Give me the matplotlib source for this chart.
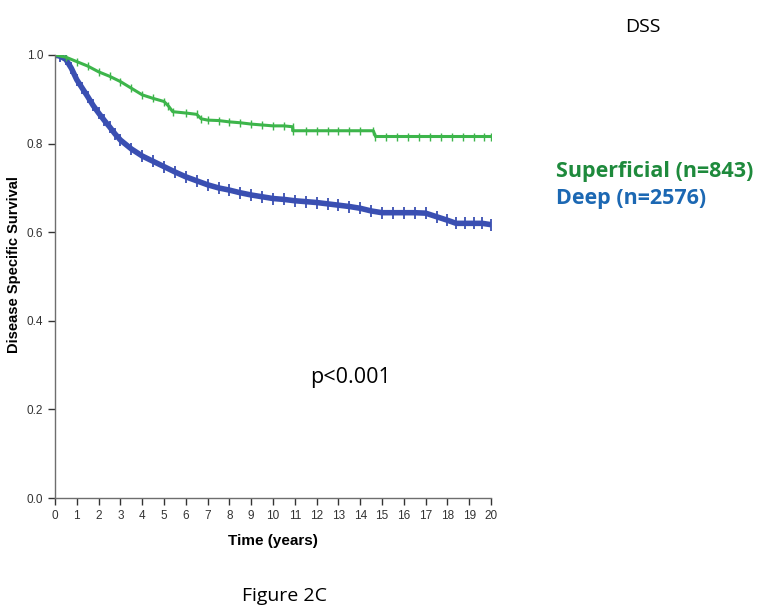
import matplotlib
matplotlib.use("Agg")
import matplotlib.pyplot as plt
import numpy as np

# Kaplan-Meier estimates (sharp drops given as repeated times)
sup_time = [0, 0.5, 1.0, 1.5, 2.0, 2.5, 3.0, 3.5, 4.0, 4.5, 5.0, 5.2, 5.4, 6.0, 6.5, 6.7,
            7.0, 7.5, 8.0, 8.5, 9.0, 9.5, 10.0, 10.5, 10.9, 10.9, 11.5, 12.0, 12.5, 13.0,
            13.5, 14.0, 14.6, 14.7, 15.2, 15.7, 16.2, 16.7, 17.2, 17.7, 18.2, 18.7, 19.2,
            19.7, 20.0]
sup_surv = [1.0, 0.995, 0.985, 0.975, 0.962, 0.952, 0.94, 0.925, 0.91, 0.902, 0.895, 0.885,
            0.872, 0.869, 0.866, 0.856, 0.853, 0.852, 0.849, 0.847, 0.844, 0.842, 0.84, 0.84,
            0.838, 0.829, 0.829, 0.829, 0.829, 0.829, 0.829, 0.829, 0.829, 0.816, 0.816,
            0.816, 0.816, 0.816, 0.816, 0.816, 0.816, 0.816, 0.816, 0.816, 0.816]

deep_time = [0, 0.25, 0.5, 0.75, 1.0, 1.25, 1.5, 1.75, 2.0, 2.25, 2.5, 2.75, 3.0, 3.5, 4.0, 4.5,
             5.0, 5.5, 6.0, 6.5, 7.0, 7.5, 8.0, 8.5, 9.0, 9.5, 10.0, 10.5, 11.0, 11.5, 12.0,
             12.5, 13.0, 13.5, 14.0, 14.5, 15.0, 15.5, 16.0, 16.5, 17.0, 17.5, 18.0, 18.4,
             18.8, 19.2, 19.6, 20.0]
deep_surv = [1.0, 0.997, 0.99, 0.97, 0.944, 0.925, 0.906, 0.886, 0.869, 0.853, 0.838, 0.822,
             0.808, 0.788, 0.772, 0.76, 0.748, 0.736, 0.725, 0.716, 0.707, 0.7, 0.695, 0.689,
             0.684, 0.68, 0.676, 0.674, 0.671, 0.669, 0.667, 0.664, 0.661, 0.658, 0.654, 0.648,
             0.644, 0.644, 0.644, 0.644, 0.643, 0.635, 0.627, 0.62, 0.62, 0.62, 0.62, 0.617]

x_ticks = list(range(0, 21))
y_ticks = [0.0, 0.2, 0.4, 0.6, 0.8, 1.0]

green = "#3db54b"
blue = "#3a4fb2"

fig = plt.figure(figsize=(7.62, 6.15), dpi=100)
ax = fig.add_axes([0.0722, 0.1902, 0.5722, 0.7204])

ax.plot(deep_time, deep_surv, color=blue, lw=4.0,
        marker="|", markersize=8, markeredgewidth=1.3, solid_capstyle="butt")
ax.plot(sup_time, sup_surv, color=green, lw=2.2,
        marker="|", markersize=6, markeredgewidth=1.0, solid_capstyle="butt")

ax.set_xlim(0, 20)
ax.set_ylim(0, 1.0)
ax.set_xticks(x_ticks)
ax.set_xticklabels([str(t) for t in x_ticks])
ax.set_yticks(y_ticks)
ax.set_yticklabels([f"{v:.1f}" for v in y_ticks])

for s in ["top", "right"]:
    ax.spines[s].set_visible(False)
for s in ["left", "bottom"]:
    ax.spines[s].set_color("#6e6e6e")
    ax.spines[s].set_linewidth(1.0)
ax.tick_params(axis="both", direction="out", length=5, width=1.0, color="#333333",
               labelsize=8.5, labelcolor="#333333")
for lab in ax.get_xticklabels() + ax.get_yticklabels():
    lab.set_family("Liberation Sans")

ax.set_xlabel("Time (years)", fontsize=11, fontweight="bold", family="Liberation Sans",
              labelpad=9)
ax.set_ylabel("Disease Specific Survival", fontsize=10.5, fontweight="bold",
              family="Liberation Sans")
ax.yaxis.set_label_coords(-0.079, 0.526)

fig.text(643 / 762, 1 - 27 / 615, "DSS", ha="center", va="center", fontsize=14,
         family="Open Sans")
fig.text(556 / 762, 1 - 171 / 615, "Superficial (n=843)", ha="left", va="center",
         fontsize=15.5, fontweight="bold", color="#1e8a3c", family="Open Sans")
fig.text(556 / 762, 1 - 198 / 615, "Deep (n=2576)", ha="left", va="center",
         fontsize=15.5, fontweight="bold", color="#1c68b3", family="Open Sans")
fig.text(350 / 762, 1 - 378 / 615, "p<0.001", ha="center", va="center", fontsize=15.5,
         family="Open Sans")
fig.text(285 / 762, 1 - 596 / 615, "Figure 2C", ha="center", va="center", fontsize=14,
         family="Open Sans")

fig.savefig("out.png", dpi=100)
